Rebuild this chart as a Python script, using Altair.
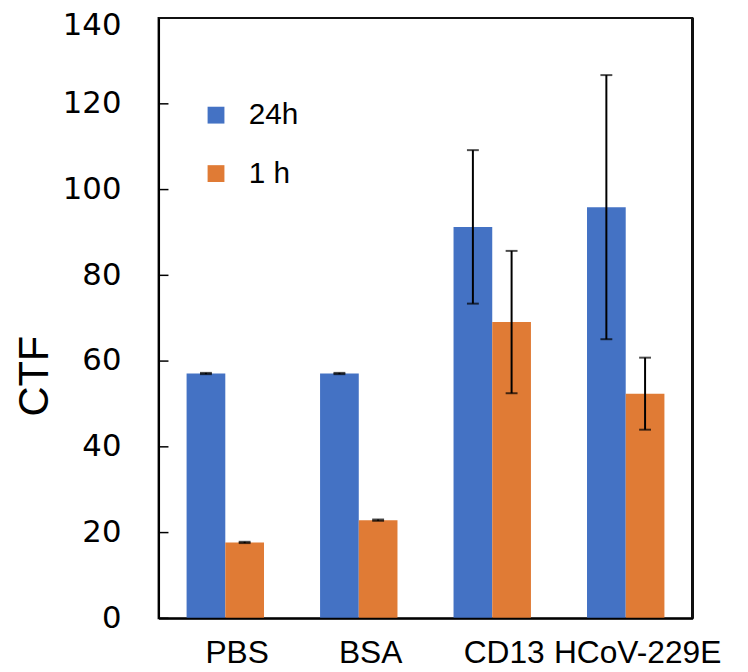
import altair as alt
import pandas as pd

categories = ["PBS", "BSA", "CD13", "HCoV-229E"]
series_order = ["24h", "1 h"]
vals_24h = [57.1, 57.1, 91.3, 95.9]
err_24h = [0.15, 0.15, 17.9, 30.8]
vals_1h = [17.7, 22.9, 69.1, 52.4]
err_1h = [0.15, 0.15, 16.6, 8.4]
y_ticks = [0, 20, 40, 60, 80, 100, 120, 140]
colors = ["#4472C4", "#E07B35"]
W, H = 539, 606

rows = []
for i, c in enumerate(categories):
    rows.append({"cat": c, "series": "24h", "v": vals_24h[i],
                 "lo": vals_24h[i] - err_24h[i], "hi": vals_24h[i] + err_24h[i]})
    rows.append({"cat": c, "series": "1 h", "v": vals_1h[i],
                 "lo": vals_1h[i] - err_1h[i], "hi": vals_1h[i] + err_1h[i]})
df = pd.DataFrame(rows)
ticks_df = pd.DataFrame({"t": y_ticks})

yscale = alt.Scale(domain=[0, 140], nice=False, zero=True)

xenc = alt.X("cat:N", sort=categories,
             scale=alt.Scale(paddingInner=0.42, paddingOuter=0.21),
             axis=alt.Axis(title=None, labelAngle=0, ticks=False, labelPadding=20,
                           labelFont="Liberation Sans", labelFontSize=32, labelColor="black",
                           labelOffset=12, domainColor="black", domainWidth=2, zindex=1))
xoff = alt.XOffset("series:N", sort=series_order, scale=alt.Scale(domain=series_order))

bars = alt.Chart(df).mark_bar().encode(
    x=xenc, xOffset=xoff,
    y=alt.Y("v:Q", scale=yscale,
            axis=alt.Axis(values=y_ticks, ticks=False, grid=False, labelPadding=38,
                          labelFont="DejaVu Sans", labelFontSize=31, labelColor="black",
                          labelOffset=alt.ExprRef("datum.value == 140 ? 8 : 0"),
                          domainColor="black", domainWidth=2, zindex=1,
                          title="CTF", titleFont="Liberation Sans", titleFontSize=42,
                          titleFontWeight="normal", titleColor="black",
                          titleAngle=270, titleX=-125, titleY=361,
                          titleAlign="center", titleBaseline="middle")),
    color=alt.Color("series:N", sort=series_order,
                    scale=alt.Scale(domain=series_order, range=colors),
                    legend=alt.Legend(title=None, orient="none", legendX=43, legendY=83,
                                      symbolType="square", symbolSize=289,
                                      symbolStrokeWidth=0, labelFont="Liberation Sans",
                                      labelFontSize=30, labelColor="black",
                                      rowPadding=29, labelOffset=18)),
)

err_rule = alt.Chart(df).mark_rule(color="black", strokeWidth=2).encode(
    x=alt.X("cat:N", sort=categories), xOffset=xoff,
    y=alt.Y("lo:Q", scale=yscale), y2="hi:Q")
cap_lo = alt.Chart(df).mark_tick(color="black", thickness=2, size=12).encode(
    x=alt.X("cat:N", sort=categories), xOffset=xoff,
    y=alt.Y("lo:Q", scale=yscale))
cap_hi = alt.Chart(df).mark_tick(color="black", thickness=2, size=12).encode(
    x=alt.X("cat:N", sort=categories), xOffset=xoff,
    y=alt.Y("hi:Q", scale=yscale))

inner_ticks = alt.Chart(ticks_df).mark_rule(color="black", strokeWidth=1.5).encode(
    y=alt.Y("t:Q", scale=yscale), x=alt.value(0), x2=alt.value(10))

frame_top = alt.Chart(ticks_df).mark_rule(color="#111111", strokeWidth=2).encode(
    x=alt.value(0), x2=alt.value(W), y=alt.value(0))
frame_right = alt.Chart(ticks_df).mark_rule(color="#111111", strokeWidth=2).encode(
    x=alt.value(W), y=alt.value(0), y2=alt.value(H))

chart = alt.layer(bars, err_rule, cap_lo, cap_hi, inner_ticks, frame_top, frame_right).properties(
    width=W, height=H,
    autosize=alt.AutoSizeParams(type="none"),
    padding={"left": 152, "top": 7, "right": 48, "bottom": 51},
    background="white",
).configure_view(stroke="#111111", strokeWidth=2)

chart.save("out.html", embed_options={"renderer": "svg", "actions": False})
